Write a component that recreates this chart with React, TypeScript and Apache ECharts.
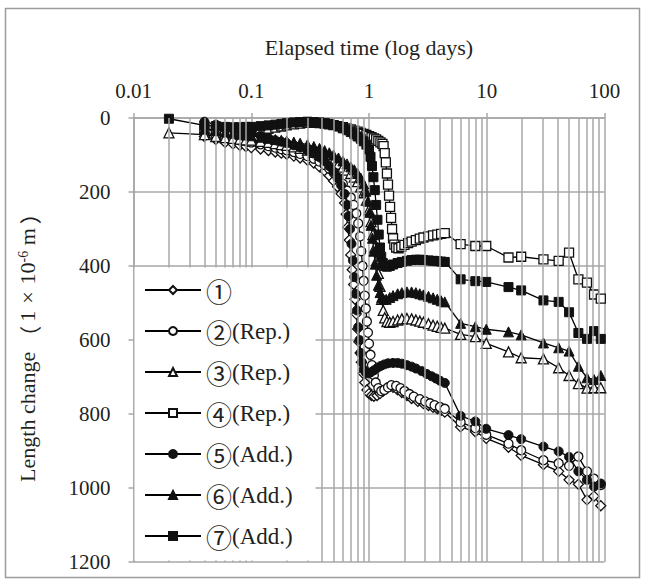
import React, { useEffect, useRef } from 'react';
import * as echarts from 'echarts';

const FONT = "'Liberation Serif', 'Times New Roman', serif";
const CJK_FONT = "'Noto Sans CJK JP', 'Liberation Serif', serif";
const TXT = '#231f20';
const GRID = '#a7a7a7';

const xTickLabels = ['0.01', '0.1', '1', '10', '100'];
const minorGridDays = [
  0.02, 0.03, 0.04, 0.05, 0.06, 0.07, 0.08, 0.09,
  0.2, 0.3, 0.4, 0.5, 0.6, 0.7, 0.8, 0.9,
  2, 3, 4, 5, 6, 7, 8, 9,
  20, 30, 40, 50, 60, 70, 80, 90,
];

const seriesNames = ['①', '②(Rep.)', '③(Rep.)', '④(Rep.)', '⑤(Add.)', '⑥(Add.)', '⑦(Add.)'];

// ① diamond
const s1 = [
  [0.04, 50], [0.05, 58], [0.06, 66], [0.07, 70], [0.08, 74], [0.09, 77], [0.1, 80], [0.12, 84], [0.14, 88],
  [0.16, 92], [0.18, 95], [0.2, 98], [0.23, 103], [0.26, 108], [0.3, 114], [0.34, 122], [0.38, 132], [0.42, 143],
  [0.46, 156], [0.5, 170], [0.54, 186], [0.58, 205], [0.62, 230], [0.64, 260], [0.66, 295], [0.68, 330],
  [0.7, 370], [0.72, 410], [0.74, 450], [0.76, 490], [0.78, 530], [0.8, 570], [0.82, 605], [0.84, 635],
  [0.86, 660], [0.89, 690], [0.92, 715], [0.96, 735], [1.0, 745], [1.05, 750], [1.1, 752], [1.17, 750],
  [1.24, 745], [1.32, 738], [1.4, 730], [1.5, 726], [1.6, 728], [1.75, 735], [1.9, 742], [2.1, 750],
  [2.3, 758], [2.6, 766], [2.9, 772], [3.2, 777], [3.5, 782], [3.8, 786], [4.1, 790], [4.4, 795],
  [6.0, 835], [8.0, 848], [9.9, 866], [15.3, 890], [19.6, 912], [30.3, 937], [40.8, 955], [50, 978],
  [60, 990], [71, 1032], [81.5, 1022], [93, 1048],
];

// ② open circle
const s2 = [
  [0.04, 40], [0.05, 46], [0.06, 52], [0.07, 56], [0.08, 60], [0.09, 63], [0.1, 66], [0.12, 71], [0.14, 76],
  [0.16, 80], [0.18, 84], [0.2, 87], [0.23, 92], [0.26, 97], [0.3, 103], [0.34, 110], [0.38, 118], [0.42, 127],
  [0.46, 137], [0.5, 148], [0.55, 162], [0.6, 178], [0.65, 196], [0.7, 215], [0.74, 235], [0.78, 258],
  [0.81, 285], [0.84, 320], [0.86, 360], [0.88, 400], [0.9, 440], [0.92, 480], [0.94, 515], [0.96, 550],
  [0.98, 580], [1.0, 610], [1.03, 640], [1.06, 668], [1.1, 695], [1.14, 715], [1.2, 730], [1.27, 738],
  [1.35, 735], [1.45, 728], [1.55, 722], [1.7, 724], [1.85, 730], [2.0, 738], [2.2, 746], [2.4, 753],
  [2.7, 760], [3.0, 766], [3.3, 771], [3.6, 776], [4.0, 781], [4.4, 786],
  [6.0, 822], [8.0, 838], [9.9, 856], [15.3, 880], [19.6, 898], [30.3, 925], [40.8, 933], [50, 940],
  [60, 915], [71, 955], [81.5, 975], [93, 992],
];

// ③ open triangle
const s3 = [
  [0.02, 40], [0.04, 45], [0.05, 50], [0.06, 53], [0.07, 55], [0.08, 57], [0.09, 59], [0.1, 60], [0.12, 63],
  [0.14, 66], [0.16, 69], [0.18, 72], [0.2, 74], [0.23, 78], [0.26, 82], [0.3, 87], [0.34, 93], [0.38, 99],
  [0.42, 105], [0.46, 111], [0.5, 117], [0.55, 125], [0.6, 133], [0.65, 141], [0.7, 150], [0.75, 160],
  [0.8, 172], [0.85, 186], [0.9, 202], [0.95, 222], [1.0, 248], [1.04, 280], [1.08, 315], [1.12, 350],
  [1.16, 385], [1.2, 420], [1.24, 455], [1.28, 490], [1.32, 520], [1.36, 540], [1.42, 550], [1.5, 552],
  [1.6, 550], [1.75, 546], [1.9, 543], [2.1, 542], [2.3, 543], [2.5, 546], [2.7, 549], [2.9, 552],
  [3.2, 556], [3.5, 560], [3.8, 563], [4.1, 566], [4.4, 568],
  [6.0, 585], [8.0, 591], [9.9, 609], [15.3, 632], [19.6, 648], [30.3, 651], [40.8, 675], [50, 696],
  [60, 718], [71, 730], [81.5, 729], [93, 729],
];

// ④ open square
const s4 = [
  [0.04, 30], [0.05, 33], [0.06, 35], [0.07, 36], [0.08, 36], [0.09, 35], [0.1, 34], [0.12, 32], [0.14, 29],
  [0.16, 26], [0.18, 23], [0.2, 20], [0.23, 17], [0.26, 15], [0.3, 13], [0.34, 13], [0.38, 14], [0.42, 15],
  [0.46, 17], [0.5, 19], [0.55, 22], [0.6, 25], [0.65, 28], [0.7, 31], [0.75, 34], [0.8, 37], [0.85, 40],
  [0.9, 43], [0.95, 46], [1.0, 49], [1.05, 52], [1.1, 55], [1.15, 58], [1.2, 62], [1.25, 66], [1.3, 70],
  [1.33, 76], [1.36, 95], [1.39, 120], [1.42, 150], [1.45, 180], [1.48, 210], [1.51, 240], [1.54, 270],
  [1.57, 300], [1.6, 325], [1.64, 342], [1.7, 350], [1.78, 352], [1.88, 348], [2.0, 343], [2.15, 338],
  [2.3, 334], [2.5, 330], [2.7, 326], [2.9, 323], [3.2, 320], [3.5, 317], [3.8, 315], [4.1, 313], [4.4, 311],
  [6.0, 341], [8.0, 346], [9.9, 346], [15.3, 377], [19.6, 375], [30.3, 382], [40.8, 386], [50, 364],
  [60, 436], [71, 445], [81.5, 477], [93, 488],
];

// ⑤ filled circle
const s5 = [
  [0.04, 10], [0.05, 18], [0.06, 25], [0.07, 30], [0.08, 35], [0.09, 38], [0.1, 42], [0.12, 48], [0.14, 54],
  [0.16, 60], [0.18, 64], [0.2, 68], [0.23, 74], [0.26, 80], [0.3, 88], [0.34, 96], [0.38, 106], [0.42, 117],
  [0.46, 130], [0.5, 145], [0.54, 162], [0.58, 182], [0.62, 205], [0.65, 235], [0.67, 265], [0.69, 300],
  [0.71, 340], [0.73, 385], [0.75, 430], [0.77, 475], [0.79, 520], [0.81, 565], [0.83, 600], [0.85, 635],
  [0.87, 660], [0.9, 680], [0.94, 688], [0.98, 690], [1.03, 688], [1.1, 682], [1.18, 675], [1.26, 670],
  [1.35, 666], [1.45, 663], [1.6, 662], [1.75, 662], [1.9, 664], [2.1, 668], [2.3, 672], [2.5, 677],
  [2.8, 684], [3.1, 692], [3.4, 698], [3.7, 704], [4.0, 710], [4.4, 716],
  [6.0, 805], [8.0, 820], [9.9, 840], [15.3, 857], [19.6, 868], [30.3, 888], [40.8, 901], [50, 916],
  [60, 955], [71, 978], [81.5, 996], [93, 988],
];

// ⑥ filled triangle
const s6 = [
  [0.04, 30], [0.05, 34], [0.06, 38], [0.07, 41], [0.08, 44], [0.09, 46], [0.1, 48], [0.12, 52], [0.14, 55],
  [0.16, 58], [0.18, 60], [0.2, 62], [0.23, 65], [0.26, 68], [0.3, 72], [0.34, 77], [0.38, 82], [0.42, 88],
  [0.46, 94], [0.5, 100], [0.55, 108], [0.6, 116], [0.65, 124], [0.7, 132], [0.75, 140], [0.8, 150],
  [0.85, 162], [0.9, 178], [0.94, 198], [0.98, 225], [1.01, 255], [1.04, 290], [1.07, 325], [1.1, 360],
  [1.13, 395], [1.16, 425], [1.2, 452], [1.24, 472], [1.28, 485], [1.33, 490], [1.4, 490], [1.5, 485],
  [1.6, 480], [1.75, 475], [1.9, 472], [2.1, 470], [2.3, 470], [2.5, 472], [2.7, 475], [2.9, 478],
  [3.2, 482], [3.5, 486], [3.8, 490], [4.1, 494], [4.4, 497],
  [6.0, 555], [8.0, 564], [9.9, 571], [15.3, 578], [19.6, 586], [30.3, 608], [40.8, 621], [50, 630],
  [60, 671], [71, 702], [81.5, 707], [93, 696],
];

// ⑦ filled square
const s7 = [
  [0.02, 2], [0.04, 20], [0.05, 22], [0.06, 24], [0.07, 25], [0.08, 25], [0.09, 24], [0.1, 24], [0.12, 22],
  [0.14, 20], [0.16, 18], [0.18, 16], [0.2, 14], [0.23, 12], [0.26, 11], [0.3, 10], [0.34, 11], [0.38, 12],
  [0.42, 14], [0.46, 16], [0.5, 19], [0.55, 23], [0.6, 28], [0.65, 33], [0.7, 38], [0.75, 44], [0.8, 50],
  [0.85, 56], [0.9, 63], [0.95, 72], [1.0, 85], [1.03, 105], [1.06, 130], [1.09, 160], [1.12, 195],
  [1.15, 235], [1.18, 275], [1.21, 315], [1.24, 350], [1.27, 375], [1.31, 392], [1.36, 400], [1.42, 402],
  [1.5, 400], [1.6, 396], [1.75, 392], [1.9, 389], [2.1, 386], [2.3, 384], [2.5, 383], [2.7, 383],
  [2.9, 384], [3.2, 385], [3.5, 386], [3.8, 387], [4.1, 388], [4.4, 389],
  [6.0, 436], [8.0, 441], [9.9, 443], [15.3, 457], [19.6, 466], [30.3, 493], [40.8, 497], [50, 525],
  [60, 581], [71, 597], [81.5, 576], [93, 597],
];

const seriesData = [s1, s2, s3, s4, s5, s6, s7];
const symbols = ['diamond', 'circle', 'triangle', 'rect', 'circle', 'triangle', 'rect'];
const symbolSizes = [10, 9, 10, 9, 9, 10, 9];
const filled = [false, false, false, false, true, true, true];

export default function App() {
  const ref = useRef<HTMLDivElement>(null);
  useEffect(() => {
    if (!ref.current) return;
    const chart = echarts.init(ref.current, null, { renderer: 'svg' });
    const lineSeries = seriesData.map((d, i) => ({
      name: seriesNames[i],
      type: 'line',
      data: d,
      symbol: symbols[i],
      symbolSize: symbolSizes[i],
      showAllSymbol: true,
      z: 3,
      lineStyle: { color: '#000', width: 1.3 },
      itemStyle: filled[i]
        ? { color: '#111', borderColor: '#111', borderWidth: 1 }
        : { color: '#fff', borderColor: '#111', borderWidth: 1.3 },
      emphasis: { disabled: true },
    }));
    const option: any = {
      animation: false,
      backgroundColor: '#fff',
      graphic: [
        {
          type: 'rect',
          shape: { x: 5.5, y: 8.5, width: 634, height: 569 },
          style: { fill: 'none', stroke: '#9c9c9c', lineWidth: 1.5 },
          silent: true,
          z: 0,
        },
        {
          type: 'rect',
          shape: { x: 134.5, y: 267.5, width: 181, height: 293 },
          style: { fill: '#fff', stroke: 'none' },
          silent: true,
          z: 8,
        },
      ],
      grid: { left: 133.5, top: 118, right: 40.5, bottom: 23, containLabel: false },
      xAxis: {
        type: 'log',
        logBase: 10,
        min: 0.01,
        max: 100,
        position: 'top',
        name: 'Elapsed time (log days)',
        nameLocation: 'middle',
        nameGap: 60,
        nameTextStyle: { fontFamily: FONT, fontSize: 22, color: TXT },
        axisLine: { show: true, lineStyle: { color: GRID, width: 1.5 } },
        axisTick: { show: true, inside: false, length: 5, lineStyle: { color: GRID, width: 1.5 } },
        axisLabel: {
          fontFamily: FONT,
          fontSize: 21,
          color: TXT,
          margin: 17,
          formatter: (v: number) => xTickLabels[Math.round(Math.log10(v)) + 2],
        },
        splitLine: { show: true, lineStyle: { color: GRID, width: 1.5 } },
      },
      yAxis: {
        type: 'value',
        inverse: true,
        min: 0,
        max: 1200,
        interval: 200,
        name: 'Length change{w|（}1{x|×}10{sup|-6} m{w|）}',
        nameLocation: 'middle',
        nameGap: 95,
        nameRotate: 90,
        nameTextStyle: {
          fontFamily: FONT,
          fontSize: 22,
          color: TXT,
          rich: {
            sup: { fontFamily: FONT, fontSize: 14, color: TXT, verticalAlign: 'top' },
            w: { fontFamily: CJK_FONT, fontSize: 22, color: TXT, padding: [0, 4] },
            x: { fontFamily: FONT, fontSize: 22, color: TXT, padding: [0, 7] },
          },
        },
        axisLine: { show: true, lineStyle: { color: GRID, width: 1.5 } },
        axisTick: { show: true, inside: false, length: 5, lineStyle: { color: GRID, width: 1.5 } },
        axisLabel: {
          fontFamily: FONT,
          fontSize: 21,
          color: TXT,
          margin: 23,
          formatter: (v: number) => String(v),
        },
        splitLine: { show: true, lineStyle: { color: GRID, width: 1.5 } },
      },
      legend: {
        data: seriesNames,
        orient: 'vertical',
        left: 134,
        top: 267,
        z: 10,
        itemWidth: 56,
        itemHeight: 10,
        itemGap: 15,
        padding: [10, 10, 10, 10],
        formatter: (name: string) => `{c|${name.charAt(0)}}{t|${name.slice(1)}}`,
        textStyle: {
          fontFamily: FONT,
          fontSize: 22,
          color: TXT,
          lineHeight: 26,
          rich: {
            c: { fontFamily: CJK_FONT, fontSize: 26, color: TXT, lineHeight: 26 },
            t: { fontFamily: FONT, fontSize: 23, color: TXT, lineHeight: 26 },
          },
        },
        selectedMode: false,
      },
      series: [
        {
          name: 'minor',
          type: 'line',
          data: [],
          z: 1,
          silent: true,
          markLine: {
            silent: true,
            symbol: 'none',
            label: { show: false },
            lineStyle: { color: GRID, width: 1.5, type: 'solid' },
            data: minorGridDays.map((d) => ({ xAxis: d })),
          },
        },
        ...lineSeries,
      ],
    };
    chart.setOption(option);
    return () => chart.dispose();
  }, []);
  return (
    <div
      ref={ref}
      style={{ position: 'fixed', left: 0, top: 0, width: 645, height: 585, background: '#fff' }}
    />
  );
}
